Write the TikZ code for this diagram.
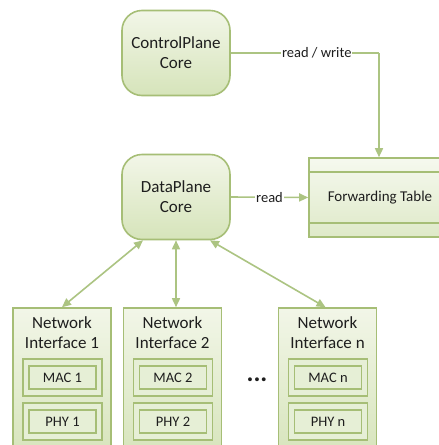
\documentclass[tikz,border=0pt]{standalone}
\usepackage{fontspec}
\setmainfont{Carlito}
\usetikzlibrary{arrows.meta}
\definecolor{bord}{RGB}{166,190,118}
\definecolor{lne}{RGB}{172,196,130}
\definecolor{ftop}{RGB}{242,246,232}
\definecolor{fbot}{RGB}{214,228,186}
\definecolor{txt}{RGB}{30,30,30}
\tikzset{
  core/.style={draw=bord, line width=1.6pt, rounded corners=20pt, top color=ftop, bottom color=fbot,
    minimum width=108pt, minimum height=85pt, align=center, font=\fontsize{17}{20}\selectfont, text=txt},
  table/.style={draw=bord, line width=1.6pt, top color=ftop!70!white, bottom color=fbot!80!white,
    minimum width=142pt, minimum height=79pt, font=\fontsize{15}{16}\selectfont, text=txt},
  nibox/.style={draw=bord, line width=1.6pt, top color=ftop, bottom color=fbot,
    minimum width=98pt, minimum height=152pt},
  nitext/.style={align=center, font=\fontsize{17}{20}\selectfont, text=txt},
  outerbox/.style={draw=bord, line width=1.6pt, fill=fbot!60!white, minimum width=79pt, minimum height=37pt},
  innerbox/.style={draw=bord, line width=1.6pt, fill=fbot!60!white, minimum width=67pt, minimum height=23pt,
    font=\fontsize{14.5}{16}\selectfont, text=txt},
  conn/.style={draw=lne, line width=1.6pt},
  tip/.style={-{Triangle[length=9pt,width=8pt]}},
  dtip/.style={{Triangle[length=9pt,width=8pt]}-{Triangle[length=9pt,width=8pt]}},
  lbl/.style={fill=white, inner sep=1pt, font=\fontsize{14.5}{16}\selectfont, text=txt}
}
\begin{document}
\begin{tikzpicture}[x=1pt,y=-1pt]
\useasboundingbox (0,0) rectangle (439,445);
\clip (0,0) rectangle (439,445);
\fill[white] (0,0) rectangle (439,445);

\node[core] (cp) at (176,53) {ControlPlane\\Core};
\node[core] (dp) at (176,197) {DataPlane\\Core};
\node[table] (ft) at (380,197.5) {Forwarding Table};
\draw[bord, line width=1.6pt] (ft.west |- 0,172) -- (ft.east |- 0,172);
\draw[bord, line width=1.6pt] (ft.west |- 0,223) -- (ft.east |- 0,223);

\coordinate (corner) at (379,53);
\draw[conn] (cp.east) -- node[lbl, pos=0.58] {read / write} (corner);
\draw[conn, tip] (corner) -- (corner |- ft.north);
\draw[conn, tip] (dp.east) -- node[lbl] {read} (ft.west);

% network interfaces
\foreach \n/\x/\lab in {ni1/62/1, ni2/172.5/2, nin/327.5/n} {
  \node[nibox] (\n) at (\x,384) {};
  \node[nitext] (\n t) at (\x,333) {Network\\Interface \lab};
  \node[outerbox] (\n mo) at (\x+0.5,377.5) {};
  \node[innerbox] (\n m) at (\x+0.5,377.5) {MAC \lab};
  \node[outerbox] (\n po) at (\x+0.5,421.5) {};
  \node[innerbox] (\n p) at (\x+0.5,421.5) {PHY \lab};
}
\node[font=\fontsize{26}{28}\selectfont\bfseries, text=txt, inner sep=0pt] (dots) at (257,380) {...};

\draw[conn, dtip] ([xshift=-33pt]dp.south) -- (ni1.north);
\draw[conn, dtip] (dp.south) -- (dp.south |- ni2.north);
\draw[conn, dtip] ([xshift=34pt]dp.south) -- ([xshift=-2pt]nin.north);
\end{tikzpicture}
\end{document}
